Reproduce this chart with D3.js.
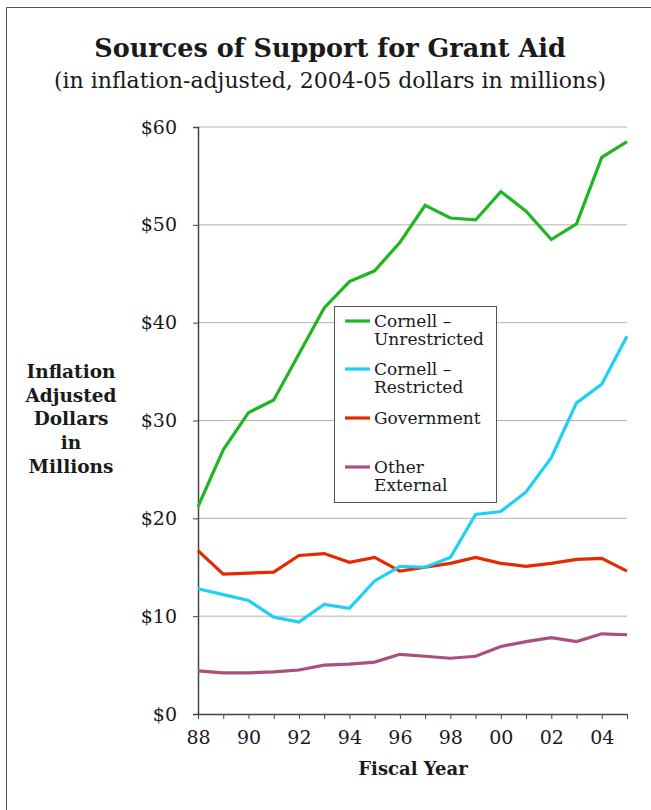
<!DOCTYPE html>
<html>
<head>
<meta charset="utf-8">
<script src="https://cdn.jsdelivr.net/npm/d3@7"></script>
<style>
  body { margin: 0; background: #fff; }
  svg { font-family: "DejaVu Serif", "Liberation Serif", serif; }
</style>
</head>
<body>
<div id="chart"></div>
<script>
// Data
const years = [88, 89, 90, 91, 92, 93, 94, 95, 96, 97, 98, 99, 0, 1, 2, 3, 4, 5];
const yearLabels = ["88", "90", "92", "94", "96", "98", "00", "02", "04"];
const unrestricted = [21.2, 27.0, 30.8, 32.1, 36.8, 41.5, 44.2, 45.3, 48.2, 52.0, 50.7, 50.5, 53.4, 51.4, 48.5, 50.1, 56.9, 58.5];
const restricted   = [12.8, 12.2, 11.6, 9.9, 9.4, 11.2, 10.8, 13.6, 15.1, 15.0, 16.0, 20.4, 20.7, 22.7, 26.2, 31.8, 33.7, 38.6];
const government   = [16.7, 14.3, 14.4, 14.5, 16.2, 16.4, 15.5, 16.0, 14.6, 15.0, 15.4, 16.0, 15.4, 15.1, 15.4, 15.8, 15.9, 14.6];
const otherExt     = [4.4, 4.2, 4.2, 4.3, 4.5, 5.0, 5.1, 5.3, 6.1, 5.9, 5.7, 5.9, 6.9, 7.4, 7.8, 7.4, 8.2, 8.1];
const yTicks = [0, 10, 20, 30, 40, 50, 60];

const series = [
  { name: ["Cornell \u2013", "Unrestricted"], values: unrestricted, color: "#22b522" },
  { name: ["Cornell \u2013", "Restricted"], values: restricted, color: "#1fd0f5" },
  { name: ["Government"], values: government, color: "#e42a00" },
  { name: ["Other", "External"], values: otherExt, color: "#a8507f" }
];

const W = 651, H = 810;
const plot = { left: 198, right: 627, top: 127, bottom: 714 };

const svg = d3.select("#chart").append("svg")
    .attr("width", W)
    .attr("height", H);

// frame
svg.append("path")
    .attr("d", `M6.5,${H} V7.5 H${W}`)
    .attr("fill", "none")
    .attr("stroke", "#555")
    .attr("stroke-width", 1);

// Title
svg.append("text")
    .attr("x", 330).attr("y", 57)
    .attr("text-anchor", "middle")
    .attr("font-size", 25.5)
    .attr("font-weight", "bold")
    .attr("fill", "#1a1a1a")
    .text("Sources of Support for Grant Aid");

svg.append("text")
    .attr("x", 330).attr("y", 88)
    .attr("text-anchor", "middle")
    .attr("font-size", 22)
    .attr("fill", "#1a1a1a")
    .text("(in inflation-adjusted, 2004-05 dollars in millions)");

// Scales
const x = d3.scaleLinear()
    .domain([0, years.length - 1])
    .range([plot.left, plot.right]);

const y = d3.scaleLinear()
    .domain([0, 60])
    .range([plot.bottom, plot.top]);

// gridlines
svg.append("g")
    .selectAll("line")
    .data(yTicks.slice(1))
    .enter().append("line")
    .attr("x1", plot.left).attr("x2", plot.right)
    .attr("y1", d => y(d)).attr("y2", d => y(d))
    .attr("stroke", "#b3b3b3")
    .attr("stroke-width", 1);

// Y axis
const yAxis = svg.append("g")
    .attr("transform", `translate(${plot.left},0)`)
    .call(d3.axisLeft(y).tickValues(yTicks).tickSize(5).tickPadding(16).tickFormat(d => "$" + d));
yAxis.select(".domain").attr("stroke", "#444").attr("stroke-width", 1.5);
yAxis.selectAll(".tick line").attr("stroke", "#444");
yAxis.selectAll("text")
    .attr("font-size", 19)
    .attr("font-family", "DejaVu Serif, serif")
    .attr("fill", "#1a1a1a");

// X axis
const xAxis = svg.append("g")
    .attr("transform", `translate(0,${plot.bottom})`)
    .call(d3.axisBottom(x).tickValues(d3.range(years.length)).tickSize(5).tickSizeOuter(0)
        .tickFormat(i => i % 2 === 0 ? yearLabels[i / 2] : ""));
xAxis.select(".domain").attr("stroke", "#444").attr("stroke-width", 1.5);
xAxis.selectAll(".tick line").attr("stroke", "#444");
xAxis.selectAll("text")
    .attr("font-size", 19)
    .attr("font-family", "DejaVu Serif, serif")
    .attr("fill", "#1a1a1a")
    .attr("dy", "1.15em");

// axis titles
svg.append("text")
    .attr("x", 413).attr("y", 775)
    .attr("text-anchor", "middle")
    .attr("font-size", 18)
    .attr("font-weight", "bold")
    .attr("fill", "#1a1a1a")
    .text("Fiscal Year");

const yTitle = ["Inflation", "Adjusted", "Dollars", "in", "Millions"];
svg.append("text")
    .attr("text-anchor", "middle")
    .attr("font-size", 18.5)
    .attr("font-weight", "bold")
    .attr("fill", "#1a1a1a")
    .selectAll("tspan")
    .data(yTitle)
    .enter().append("tspan")
    .attr("x", 71)
    .attr("y", (d, i) => 378 + i * 23.7)
    .text(d => d);

// Lines
const line = d3.line()
    .x((d, i) => x(i))
    .y(d => y(d));

svg.append("g")
    .selectAll("path")
    .data(series.slice().reverse())
    .enter().append("path")
    .attr("d", d => line(d.values))
    .attr("fill", "none")
    .attr("stroke", d => d.color)
    .attr("stroke-width", 3.2)
    .attr("stroke-linejoin", "miter");

// Legend
const legend = svg.append("g").attr("class", "legend");
legend.append("rect")
    .attr("x", 334.5).attr("y", 306.5)
    .attr("width", 162).attr("height", 196)
    .attr("fill", "#fff")
    .attr("stroke", "#555")
    .attr("stroke-width", 1);

const legendY = [321, 369, 418, 467];
series.forEach((s, i) => {
    const g = legend.append("g").attr("transform", `translate(0,${legendY[i]})`);
    g.append("line")
        .attr("x1", 345).attr("x2", 370)
        .attr("y1", 0).attr("y2", 0)
        .attr("stroke", s.color)
        .attr("stroke-width", 3.2);
    g.append("text")
        .attr("font-size", 17)
        .attr("fill", "#1a1a1a")
        .selectAll("tspan")
        .data(s.name)
        .enter().append("tspan")
        .attr("x", 374)
        .attr("y", (d, j) => 6 + j * 18)
        .text(d => d);
});
</script>
</body>
</html>
